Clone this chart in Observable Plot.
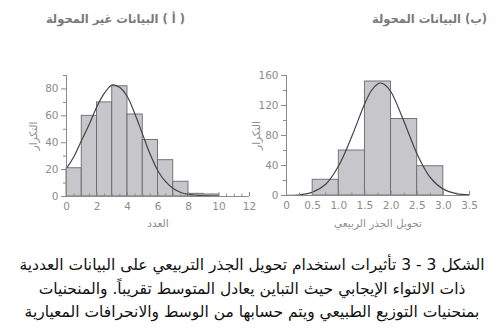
<!DOCTYPE html>
<html>
<head>
<meta charset="utf-8">
<script src="https://cdn.jsdelivr.net/npm/d3@7"></script>
<script src="https://cdn.jsdelivr.net/npm/@observablehq/plot@0.6"></script>
<style>
  body { margin: 0; background: #fff; }
  #wrap { position: relative; width: 504px; height: 336px; overflow: hidden; background: #fff; font-family: "DejaVu Sans", sans-serif; }
  .ttl { position: absolute; top: 12px; font-size: 11.5px; font-weight: bold; color: #7a7a7a; direction: rtl; white-space: nowrap; }
  #cap { position: absolute; top: 254px; left: 0; width: 504px; text-align: center; direction: rtl; font-size: 15.5px; line-height: 23.7px; color: #111; }
  .pl { position: absolute; top: 60px; }
</style>
</head>
<body>
<div id="wrap">
  <div class="ttl" id="t1" style="right:319px"></div>
  <div class="ttl" id="t2" style="right:17px"></div>
  <div class="pl" id="p1" style="left:0px"></div>
  <div class="pl" id="p2" style="left:252px"></div>
  <div id="cap"></div>
</div>
<script>
// ---- data ----
const titleA = "( أ ) البيانات غير المحولة";
const titleB = "(ب) البيانات المحولة";
const yLabel = "التكرار";
const xLabelA = "العدد";
const xLabelB = "تحويل الجذر الربيعي";
const captionLines = [
  "الشكل 3 - 3 تأثيرات استخدام تحويل الجذر التربيعي على البيانات العددية",
  "ذات الالتواء الإيجابي حيث التباين يعادل المتوسط تقريباً. والمنحنيات",
  "بمنحنيات التوزيع الطبيعي ويتم حسابها من الوسط والانحرافات المعيارية"
];

const leftBinStart = [0, 1, 2, 3, 4, 5, 6, 7, 8, 9];
const leftBinEnd   = [1, 2, 3, 4, 5, 6, 7, 8, 9, 10];
const leftCounts   = [21, 60, 70, 82, 61, 42, 27, 11, 2, 1.5];
const leftCurveX = [0, 0.5, 1, 1.5, 2, 2.5, 3, 3.5, 4, 4.5, 5, 5.5, 6, 6.5, 7, 7.5, 8, 8.5, 9, 9.5, 10];
const leftCurveY = [21, 30, 42, 54, 67, 77, 83, 81, 74, 61, 46, 31, 19, 11, 6, 3, 1.6, 1, 0.6, 0.4, 0.3];
const leftXTicks = [0, 2, 4, 6, 8, 10, 12];
const leftXMinor = [0.5,1,1.5,2.5,3,3.5,4.5,5,5.5,6.5,7,7.5,8.5,9,9.5,10.5,11,11.5];
const leftYTicks = [0, 20, 40, 60, 80];
const leftYMinor = [10, 30, 50, 70, 90];

const rightBinStart = [0.5, 1.0, 1.5, 2.0, 2.5];
const rightBinEnd   = [1.0, 1.5, 2.0, 2.5, 3.0];
const rightCounts   = [21, 60, 152, 102, 39];
const rightCurveX = [0, 0.25, 0.5, 0.75, 1.0, 1.25, 1.5, 1.625, 1.75, 1.8, 1.875, 2.0, 2.25, 2.5, 2.75, 3.0, 3.25, 3.5];
const rightCurveY = [0.3, 1, 4.5, 15, 40, 79, 123, 140, 149, 150, 148, 138, 98, 55, 24, 8.5, 2.5, 1];
const rightXTicks = [0, 0.5, 1.0, 1.5, 2.0, 2.5, 3.0, 3.5];
const rightXTickLabels = ["0", "0.5", "1.0", "1.5", "2.0", "2.5", "3.0", "3.5"];
const rightXMinor = [0.25, 0.75, 1.25, 1.75, 2.25, 2.75, 3.25];
const rightYTicks = [0, 40, 80, 120, 160];
const rightYMinor = [20, 60, 100, 140];

// ---- styles ----
const barFill = "#c7c7cb";
const barStroke = "#6a6a6a";
const curveColor = "#444";
const axisColor = "#8a8a8a";
const textColor = "#8c8c8c";

document.getElementById("t1").textContent = titleA;
document.getElementById("t2").textContent = titleB;
document.getElementById("cap").innerHTML = captionLines.map(s => `<div>${s}</div>`).join("");

function panel(o) {
  const bars = o.starts.map((s, i) => ({x1: s, x2: o.ends[i], y: o.counts[i]}));
  const curve = o.cx.map((x, i) => ({x, y: o.cy[i]}));
  const tickLab = new Map(o.xTicks.map((t, i) => [t, o.xLabels ? o.xLabels[i] : String(t)]));
  return Plot.plot({
    width: o.width, height: 180,
    marginLeft: o.ml, marginRight: o.mr, marginTop: 15, marginBottom: o.mb,
    x: {domain: o.xDomain},
    y: {domain: o.yDomain},
    style: {fontFamily: "DejaVu Sans, sans-serif", fontSize: "10.5px", color: textColor, background: "transparent", overflow: "visible"},
    marks: [
      Plot.rectY(bars, {x1: "x1", x2: "x2", y: "y", fill: barFill, stroke: barStroke, strokeWidth: 0.9}),
      Plot.line(curve, {x: "x", y: "y", stroke: curveColor, strokeWidth: 1.2, curve: "catmull-rom"}),
      Plot.ruleY([0], {stroke: axisColor}),
      Plot.ruleX([0], {stroke: axisColor, y1: o.yDomain[0], y2: o.yDomain[1]}),
      Plot.axisY({ticks: o.yTicks, tickSize: 5, tickPadding: 3, stroke: axisColor, fill: textColor, label: null}),
      Plot.axisY({ticks: o.yMinor, tickSize: 3, tickFormat: () => "", stroke: axisColor, label: null}),
      Plot.axisX({ticks: o.xTicks, tickSize: 0, tickPadding: 6, tickFormat: d => tickLab.get(d), fill: textColor, label: null}),
      Plot.axisX({ticks: o.xTicks, tickSize: -4, tickFormat: () => "", stroke: axisColor, label: null}),
      Plot.axisX({ticks: o.xMinor, tickSize: -2.5, tickFormat: () => "", stroke: axisColor, label: null}),
      Plot.text([o.xLabel], {frameAnchor: "bottom", dy: o.xlDy, textAnchor: "middle", lineAnchor: "middle", text: d => d, fill: textColor, fontSize: 10.5}),
      Plot.text([yLabel], {frameAnchor: "left", dx: o.ylDx, textAnchor: "middle", lineAnchor: "middle", rotate: -90, text: d => d, fill: textColor, fontSize: 10.5})
    ]
  });
}

document.getElementById("p1").appendChild(panel({
  width: 262, ml: 66, mr: 13, mb: 44,
  xDomain: [0, 12], yDomain: [0, 90],
  starts: leftBinStart, ends: leftBinEnd, counts: leftCounts,
  cx: leftCurveX, cy: leftCurveY,
  xTicks: leftXTicks, xMinor: leftXMinor, yTicks: leftYTicks, yMinor: leftYMinor,
  xLabel: xLabelA, xlDy: 27, ylDx: -33
}));

document.getElementById("p2").appendChild(panel({
  width: 252, ml: 34, mr: 35, mb: 45,
  xDomain: [0, 3.5], yDomain: [0, 160],
  starts: rightBinStart, ends: rightBinEnd, counts: rightCounts,
  cx: rightCurveX, cy: rightCurveY,
  xTicks: rightXTicks, xLabels: rightXTickLabels, xMinor: rightXMinor, yTicks: rightYTicks, yMinor: rightYMinor,
  xLabel: xLabelB, xlDy: 28, ylDx: -30
}));
</script>
</body>
</html>
